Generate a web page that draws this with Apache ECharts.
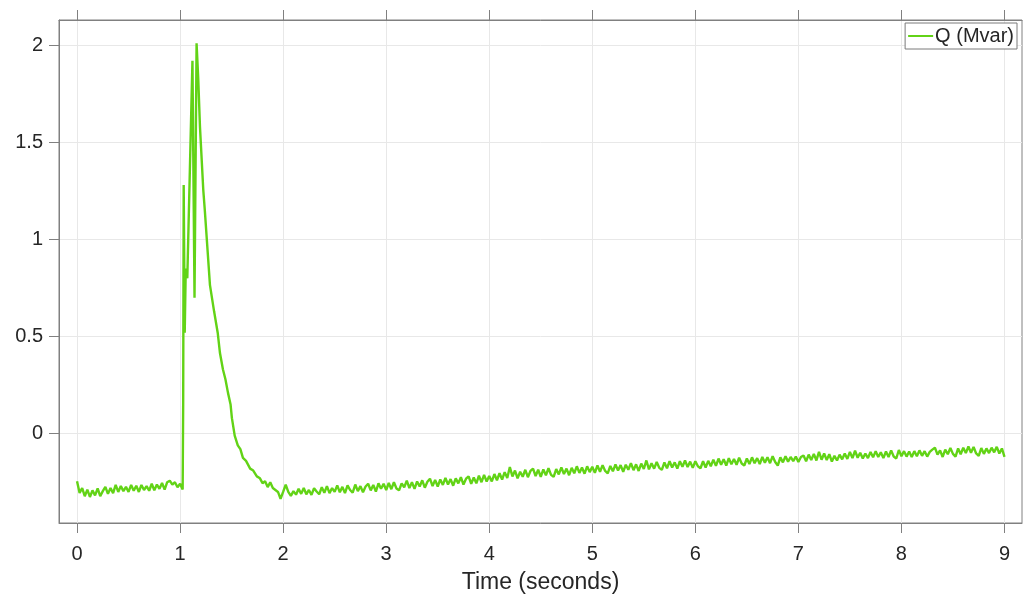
<!DOCTYPE html>
<html>
<head>
<meta charset="utf-8">
<script src="https://cdn.jsdelivr.net/npm/echarts@6/dist/echarts.min.js"></script>
<style>html,body{margin:0;padding:0;background:#fff;}#c{width:1024px;height:601px;}</style>
</head>
<body>
<div id="c"></div>
<script>
// Q (Mvar) sampled every 0.025 s from t = 0 to 1.025 s
const preStart = 0, preStep = 0.025;
const preQ = [-0.245,-0.305,-0.280,-0.322,-0.288,-0.326,-0.292,-0.318,-0.282,-0.322,
 -0.296,-0.274,-0.310,-0.280,-0.306,-0.264,-0.300,-0.270,-0.296,-0.274,
 -0.300,-0.264,-0.294,-0.268,-0.300,-0.264,-0.290,-0.270,-0.294,-0.258,
 -0.292,-0.262,-0.284,-0.254,-0.288,-0.250,-0.242,-0.262,-0.250,-0.276,
 -0.258,-0.288];
// fault transient (irregular sample times)
const spikeT = [1.030,1.035,1.045,1.055,1.070,1.120,1.140,1.160,1.176,1.193,1.225,1.240,1.290,1.330,1.365,1.387,1.416,1.440,1.465,1.490,1.503,1.530,1.560,1.585,1.610,1.640,1.680,1.710,1.745,1.775,1.800,1.825,1.850,1.875,1.900,1.925,1.950,1.975,2.000];
const spikeQ = [0.150,1.280,0.520,0.850,0.800,1.920,0.700,2.010,1.830,1.580,1.255,1.150,0.765,0.630,0.520,0.415,0.330,0.280,0.210,0.150,0.080,-0.010,-0.060,-0.080,-0.125,-0.140,-0.180,-0.190,-0.220,-0.230,-0.255,-0.245,-0.275,-0.250,-0.280,-0.290,-0.300,-0.335,-0.300];
// Q (Mvar) sampled every 0.025 s from t = 2.025 to 9.000 s
const postStart = 2.025, postStep = 0.025;
const postQ = [
 -0.262,-0.300,-0.320,-0.296,-0.314,-0.284,-0.310,-0.280,-0.312,-0.290,
 -0.315,-0.281,-0.298,-0.312,-0.276,-0.304,-0.270,-0.306,-0.280,-0.300,
 -0.266,-0.302,-0.274,-0.306,-0.266,-0.290,-0.304,-0.262,-0.296,-0.270,
 -0.302,-0.272,-0.258,-0.292,-0.264,-0.298,-0.256,-0.284,-0.258,-0.290,
 -0.254,-0.286,-0.250,-0.282,-0.292,-0.256,-0.276,-0.242,-0.280,-0.250,
 -0.284,-0.246,-0.272,-0.240,-0.278,-0.248,-0.232,-0.270,-0.238,-0.272,
 -0.236,-0.264,-0.228,-0.262,-0.234,-0.268,-0.230,-0.256,-0.224,-0.262,
 -0.232,-0.220,-0.258,-0.226,-0.256,-0.216,-0.250,-0.212,-0.246,-0.218,
 -0.246,-0.208,-0.240,-0.204,-0.236,-0.198,-0.228,-0.172,-0.220,-0.190,
 -0.230,-0.196,-0.222,-0.186,-0.224,-0.192,-0.180,-0.218,-0.186,-0.222,
 -0.184,-0.214,-0.178,-0.212,-0.222,-0.182,-0.210,-0.174,-0.208,-0.180,
 -0.214,-0.176,-0.204,-0.168,-0.202,-0.174,-0.206,-0.168,-0.198,-0.170,
 -0.202,-0.164,-0.196,-0.162,-0.192,-0.204,-0.166,-0.194,-0.158,-0.190,
 -0.162,-0.196,-0.160,-0.186,-0.152,-0.188,-0.158,-0.192,-0.154,-0.182,
 -0.138,-0.184,-0.152,-0.180,-0.146,-0.176,-0.186,-0.148,-0.178,-0.142,
 -0.174,-0.148,-0.180,-0.142,-0.170,-0.138,-0.172,-0.144,-0.176,-0.142,
 -0.168,-0.178,-0.142,-0.174,-0.140,-0.168,-0.134,-0.166,-0.128,-0.160,
 -0.132,-0.164,-0.126,-0.158,-0.130,-0.160,-0.124,-0.154,-0.164,-0.128,
 -0.156,-0.122,-0.152,-0.126,-0.156,-0.120,-0.150,-0.122,-0.152,-0.116,
 -0.146,-0.164,-0.122,-0.148,-0.116,-0.144,-0.120,-0.142,-0.118,-0.146,
 -0.120,-0.112,-0.142,-0.108,-0.136,-0.104,-0.138,-0.094,-0.134,-0.102,
 -0.136,-0.106,-0.144,-0.114,-0.138,-0.108,-0.132,-0.102,-0.130,-0.094,
 -0.126,-0.088,-0.124,-0.098,-0.128,-0.102,-0.126,-0.094,-0.122,-0.090,
 -0.120,-0.096,-0.126,-0.092,-0.120,-0.086,-0.118,-0.128,-0.084,-0.116,
 -0.090,-0.118,-0.092,-0.120,-0.090,-0.116,-0.086,-0.114,-0.090,-0.118,
 -0.094,-0.082,-0.072,-0.108,-0.086,-0.120,-0.082,-0.106,-0.074,-0.104,
 -0.118,-0.076,-0.106,-0.072,-0.100,-0.066,-0.098,-0.068,-0.102,-0.114,
 -0.074,-0.104,-0.076,-0.100,-0.072,-0.096,-0.068,-0.102,-0.076,-0.120];
const xTicks = [0,1,2,3,4,5,6,7,8,9];
const yTicks = [0,0.5,1,1.5,2];
const seriesName = 'Q (Mvar)';
const xName = 'Time (seconds)';

const data = [];
preQ.forEach((v,i)=>data.push([+(preStart+i*preStep).toFixed(3), v]));
spikeT.forEach((t,i)=>data.push([t, spikeQ[i]]));
postQ.forEach((v,i)=>data.push([+(postStart+i*postStep).toFixed(3), v]));

const axisColor = '#808080';
const labelColor = '#262626';
const gridColor = '#e8e8e8';
const lineColor = '#62d316';
const font = 'Liberation Sans, Arial, sans-serif';

const chart = echarts.init(document.getElementById('c'));
chart.setOption({
  animation:false,
  backgroundColor:'#fff',
  grid:{left:59,right:2,top:20,bottom:78,show:true,borderColor:axisColor,borderWidth:1,backgroundColor:'#fff'},
  legend:{
    show:true, right:7, top:23, orient:'horizontal',
    backgroundColor:'#fff', borderColor:'#7a7a7a', borderWidth:1, borderRadius:0,
    padding:[3,3,3,3], itemWidth:25, itemHeight:2, icon:'rect',
    itemStyle:{color:lineColor},
    textStyle:{fontSize:20,color:labelColor,fontFamily:font,padding:[0,0,0,-3]},
    data:[{name:seriesName}]
  },
  xAxis:[{
    type:'value', min:-0.175, max:9.17,
    name:xName, nameLocation:'middle', nameGap:48,
    nameTextStyle:{fontSize:23,color:labelColor,fontFamily:font},
    axisLine:{show:true,onZero:false,lineStyle:{color:axisColor}},
    axisTick:{show:true,inside:false,length:10,customValues:xTicks,lineStyle:{color:axisColor}},
    axisLabel:{show:true,customValues:xTicks,margin:21,fontSize:20,color:labelColor,fontFamily:font,formatter:v=>String(v)},
    splitLine:{show:true,lineStyle:{color:gridColor,width:1}}
  },{
    type:'value', position:'top', min:-0.175, max:9.17,
    axisLine:{show:true,onZero:false,lineStyle:{color:axisColor}},
    axisTick:{show:true,inside:false,length:10,customValues:xTicks,lineStyle:{color:axisColor}},
    axisLabel:{show:false,customValues:xTicks},
    splitLine:{show:false}
  }],
  yAxis:{
    type:'value', min:-0.46, max:2.13,
    axisLine:{show:true,onZero:false,lineStyle:{color:axisColor}},
    axisTick:{show:true,inside:false,length:10,customValues:yTicks,lineStyle:{color:axisColor}},
    axisLabel:{show:true,customValues:yTicks,margin:16,fontSize:20,color:labelColor,fontFamily:font,formatter:v=>String(v)},
    splitLine:{show:true,lineStyle:{color:gridColor,width:1}}
  },
  series:[{
    name:seriesName, type:'line', xAxisIndex:0, yAxisIndex:0,
    data:data, showSymbol:false, symbol:'none',
    lineStyle:{color:lineColor,width:2.4}, itemStyle:{color:lineColor},
    z:3
  }]
});
</script>
</body>
</html>
